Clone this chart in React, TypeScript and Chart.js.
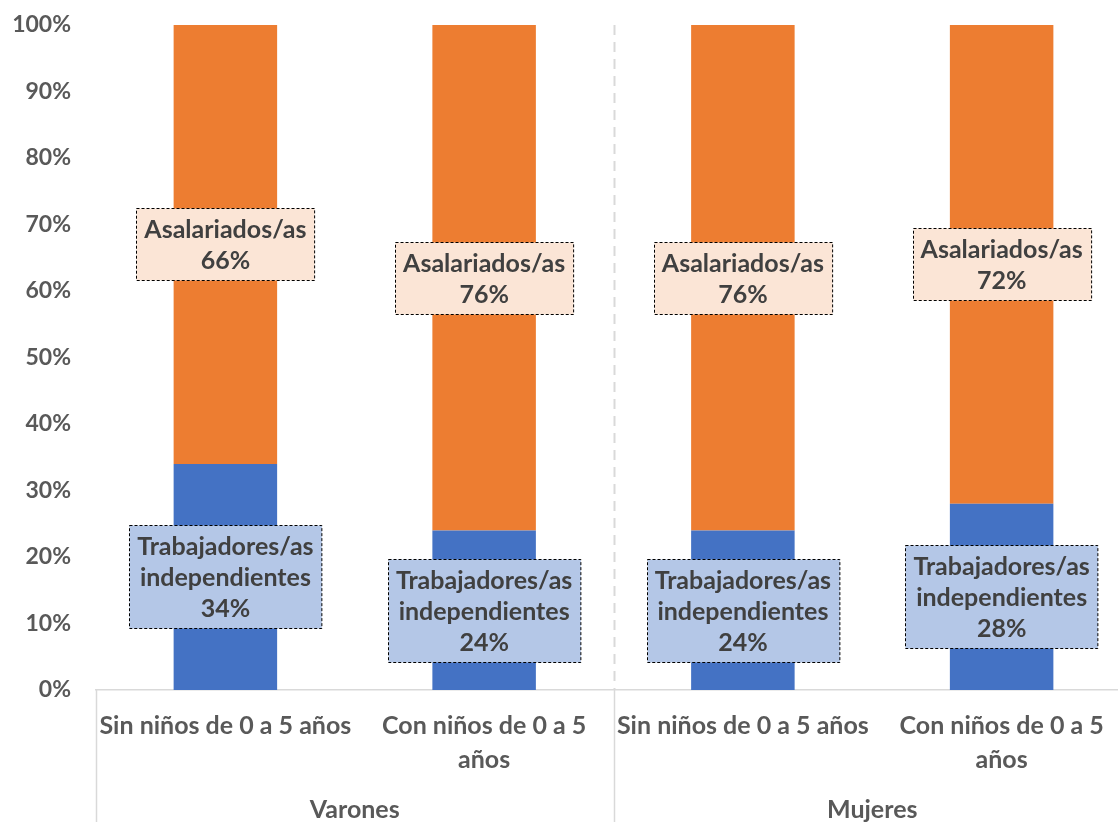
import React, { useEffect, useRef } from "react";
import { Chart, registerables } from "chart.js";

Chart.register(...registerables);

const categories: string[][] = [
  ["Sin niños de 0 a 5 años"],
  ["Con niños de 0 a 5", "años"],
  ["Sin niños de 0 a 5 años"],
  ["Con niños de 0 a 5", "años"],
];
const groups = ["Varones", "Mujeres"];
const groupSizes = [2, 2];
const independientes = [34, 24, 24, 28];
const asalariados = [66, 76, 76, 72];
const seriesNames = ["Trabajadores/as independientes", "Asalariados/as"];
const labelLines: string[][] = [["Trabajadores/as", "independientes"], ["Asalariados/as"]];
const yTicks = [0, 10, 20, 30, 40, 50, 60, 70, 80, 90, 100];

const BAR_COLORS = ["#4472C4", "#ED7D31"];
const BOX_COLORS = ["#B4C7E7", "#FBE5D6"];
const FONT = "Lato, Calibri, Carlito, 'Noto Sans', sans-serif";
const GRAY = "#595959";
const LINE = "#D9D9D9";

const labelPlugin = {
  id: "boxLabels",
  afterDatasetsDraw(chart: any) {
    const ctx = chart.ctx;
    ctx.save();
    ctx.font = `bold 25px ${FONT}`;
    ctx.textAlign = "center";
    ctx.textBaseline = "middle";
    const lh = 31;
    chart.data.datasets.forEach((ds: any, di: number) => {
      const meta = chart.getDatasetMeta(di);
      meta.data.forEach((el: any, i: number) => {
        const { x, y, base } = el.getProps(["x", "y", "base"], true);
        const cy = (y + base) / 2;
        const lines = [...labelLines[di], `${ds.data[i]}%`];
        const w = Math.max(...lines.map((l) => ctx.measureText(l).width)) + 16;
        const h = lines.length * lh + 10;
        const bx = Math.round(x - w / 2) + 0.5;
        const by = Math.round(cy - h / 2) + 0.5;
        ctx.fillStyle = BOX_COLORS[di];
        ctx.fillRect(bx, by, w, h);
        ctx.setLineDash([3, 2]);
        ctx.strokeStyle = "#000000";
        ctx.lineWidth = 1;
        ctx.strokeRect(bx, by, w, h);
        ctx.setLineDash([]);
        ctx.fillStyle = "#404040";
        lines.forEach((l, k) => {
          ctx.fillText(l, x, by + 5 + lh * k + lh / 2 + 1);
        });
      });
    });
    ctx.restore();
  },
};

const groupPlugin = {
  id: "groupAxis",
  afterDraw(chart: any) {
    const ctx = chart.ctx;
    const xs = chart.scales.x;
    const area = chart.chartArea;
    const half = (xs.getPixelForValue(1) - xs.getPixelForValue(0)) / 2;
    ctx.save();
    let start = 0;
    const bounds: number[] = [];
    groups.forEach((g, gi) => {
      const end = start + groupSizes[gi] - 1;
      const left = xs.getPixelForValue(start) - half;
      const right = xs.getPixelForValue(end) + half;
      bounds.push(left);
      if (gi === groups.length - 1) bounds.push(right);
      ctx.font = `bold 25px ${FONT}`;
      ctx.fillStyle = GRAY;
      ctx.textAlign = "center";
      ctx.textBaseline = "middle";
      ctx.fillText(g, (left + right) / 2, 810);
      start = end + 1;
    });
    ctx.strokeStyle = LINE;
    ctx.lineWidth = 1.5;
    bounds.forEach((bx) => {
      const px = Math.round(bx) + 0.5;
      ctx.beginPath();
      ctx.moveTo(px, area.bottom);
      ctx.lineTo(px, chart.height);
      ctx.stroke();
    });
    const mid = bounds[1];
    ctx.setLineDash([10, 7]);
    ctx.lineWidth = 2;
    ctx.beginPath();
    ctx.moveTo(Math.round(mid) + 0.5, area.top);
    ctx.lineTo(Math.round(mid) + 0.5, area.bottom);
    ctx.stroke();
    ctx.restore();
  },
};

export default function App() {
  const ref = useRef<HTMLCanvasElement | null>(null);
  useEffect(() => {
    if (!ref.current) return;
    const chart = new Chart(ref.current, {
      type: "bar",
      data: {
        labels: categories,
        datasets: [
          {
            label: seriesNames[0],
            data: independientes,
            backgroundColor: BAR_COLORS[0],
            borderWidth: 0,
          },
          {
            label: seriesNames[1],
            data: asalariados,
            backgroundColor: BAR_COLORS[1],
            borderWidth: 0,
          },
        ],
      },
      options: {
        animation: false,
        responsive: false,
        maintainAspectRatio: false,
        layout: { padding: { top: 25, right: 0, left: 0, bottom: 0 } },
        datasets: { bar: { categoryPercentage: 1, barPercentage: 0.4 } },
        plugins: { legend: { display: false }, tooltip: { enabled: false } },
        scales: {
          x: {
            stacked: true,
            grid: { display: false, drawTicks: false },
            border: { display: true, color: LINE, width: 1.5 },
            ticks: {
              color: GRAY,
              font: { family: FONT, size: 25, weight: "bold", lineHeight: 1.36 },
              padding: 19,
              maxRotation: 0,
              autoSkip: false,
            },
            afterFit: (s: any) => {
              s.height = 132;
            },
          },
          y: {
            stacked: true,
            min: 0,
            max: 100,
            grid: { display: false, drawTicks: false },
            border: { display: false },
            afterBuildTicks: (s: any) => {
              s.ticks = yTicks.map((v) => ({ value: v }));
            },
            ticks: {
              color: GRAY,
              font: { family: FONT, size: 23, weight: "bold" },
              padding: 25,
              callback: (v: any) => `${v}%`,
            },
            afterFit: (s: any) => {
              s.width = 96;
              s.paddingTop = 0;
              s.paddingBottom = 0;
            },
          },
        },
      },
      plugins: [labelPlugin, groupPlugin],
    });
    return () => chart.destroy();
  }, []);
  return (
    <div style={{ position: "fixed", left: 0, top: 0, width: 1131, height: 822, overflow: "hidden", background: "#fff" }}>
      <canvas ref={ref} width={1131} height={822} style={{ display: "block" }} />
    </div>
  );
}
